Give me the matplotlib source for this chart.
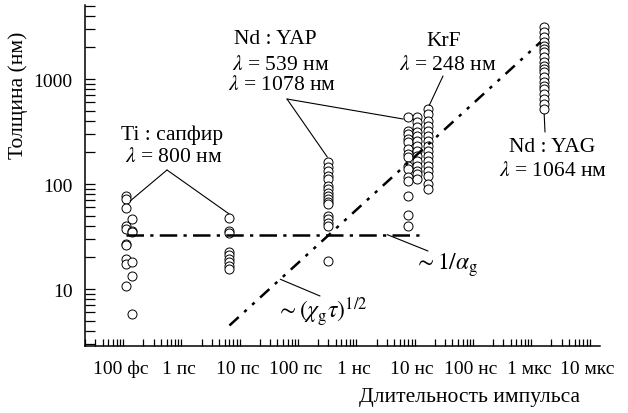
import numpy as np
import matplotlib.pyplot as plt
import matplotlib.transforms as mtransforms
from matplotlib.ticker import FixedLocator, LogLocator, NullFormatter

plt.rcParams['font.family'] = ['Liberation Serif', 'DejaVu Serif']
plt.rcParams['mathtext.fontset'] = 'stix'

# Pulse durations (s) and measured thicknesses (nm) for each laser group
ti_x1 = 1e-13
ti_y1 = [77, 72, 59, 40, 37, 27, 26, 19.5, 17.5, 10.8]
ti_x2 = 1.3e-13
ti_y2 = [46, 36, 35, 18, 13.4, 5.8]

ps10_x = 6e-12
ps10_y = [47, 36, 34.5, 22.5, 21, 19.5, 18, 16.7, 15.5]

yap_x = 3e-10
yap_y = [161, 144, 134, 120, 112, 96, 90, 83, 77, 72, 67, 64.5,
         50, 46, 43, 40, 18.6]

krf_x1 = 6.9e-9
krf_y1 = [431, 322, 299, 268, 249, 215, 193, 180, 149, 139, 116, 108,
          77, 51, 39.5]
krf_x2 = 1.0e-8
krf_y2 = [431, 387, 347, 311, 288, 258, 231, 207, 186, 166, 149, 134,
          124, 112]
krf_x3 = 1.5e-8
krf_y3 = [518, 464, 401, 359, 322, 288, 258, 232, 207, 186, 167, 149,
          134, 120, 100, 90]

yag_x = 1.5e-6
yag_y = [3100, 2780, 2500, 2240, 2075, 1930, 1795, 1610, 1445, 1340,
         1245, 1160, 1040, 930, 865, 805, 720, 645, 578, 518]

# Model lines
alpha_x = [1e-13, 1.2e-8]
alpha_y = [33, 33]
chi_x = [6e-12, 1.3e-6]
chi_y = [4.5, 2250]

xtick_vals = [1e-13, 1e-12, 1e-11, 1e-10, 1e-9, 1e-8, 1e-7, 1e-6, 1e-5]
xtick_labels = ['100 фс', '1 пс', '10 пс', '100 пс', '1 нс', '10 нс',
                '100 нс', '1 мкс', '10 мкс']
ytick_vals = [10, 100, 1000]
ytick_labels = ['10', '100', '1000']

W, H = 628, 414
fig = plt.figure(figsize=(W / 100, H / 100), dpi=100)
ax = fig.add_axes([85 / W, 1 - 347 / H, 515 / W, 341 / H])
ax.set_xscale('log')
ax.set_yscale('log')
ax.set_xlim(2e-14, 1.36e-5)
ax.set_ylim(2.87, 5070)

mk = dict(ls='none', marker='o', ms=6.5, mfc='white', mec='black', mew=0.7)
groups = [(ti_x1, ti_y1), (ti_x2, ti_y2), (ps10_x, ps10_y), (yap_x, yap_y),
          (krf_x1, krf_y1), (krf_x2, krf_y2), (krf_x3, krf_y3), (yag_x, yag_y)]
for gx, gy in groups:
    ax.plot([gx] * len(gy), gy, zorder=3, **mk)

ax.plot(alpha_x, alpha_y, color='black', lw=1.8,
        dashes=(7, 2.5, 1.3, 2.5), zorder=4)
ax.plot(chi_x, chi_y, color='black', lw=1.8,
        dashes=(5, 3, 1.3, 3, 1.3, 3), zorder=4)

for s in ['top', 'right']:
    ax.spines[s].set_visible(False)
for s in ['left', 'bottom']:
    ax.spines[s].set_linewidth(1.1)

ax.xaxis.set_major_locator(FixedLocator(xtick_vals))
ax.set_xticklabels(xtick_labels)
ax.xaxis.set_minor_locator(LogLocator(base=10, subs=np.arange(2, 10), numticks=30))
ax.xaxis.set_minor_formatter(NullFormatter())
ax.tick_params(axis='x', which='major', length=0, pad=10, labelsize=14)
ax.tick_params(axis='x', which='minor', direction='in', length=5, width=0.9)
shift = mtransforms.ScaledTranslation(-5 / 100, 0, fig.dpi_scale_trans)
for lab in ax.get_xticklabels():
    lab.set_transform(lab.get_transform() + shift)

ax.yaxis.set_major_locator(FixedLocator(ytick_vals))
ax.set_yticklabels(ytick_labels)
ax.yaxis.set_minor_locator(LogLocator(base=10, subs=np.arange(2, 10), numticks=30))
ax.yaxis.set_minor_formatter(NullFormatter())
ax.tick_params(axis='y', which='both', direction='in', length=7, width=0.9,
               pad=9, labelsize=14)


def ftext(px, py, s, ha='center', size=15.5):
    fig.text(px / W, 1 - py / H, s, ha=ha, va='center', fontsize=size)


def leader(xy, px, py):
    ax.annotate('', xy=xy, xycoords='data', xytext=(px, H - py),
                textcoords='figure pixels',
                arrowprops=dict(arrowstyle='-', lw=0.8, color='black',
                                shrinkA=0, shrinkB=0))


# Ti:sapphire
ftext(172, 135, 'Ti : сапфир')
ftext(174, 157, r'$\lambda$ = 800 нм')
leader((1.19e-13, 69), 167, 171)
leader((5.9e-12, 52), 167, 171)

# Nd:YAP
ftext(275, 40, 'Nd : YAP')
ftext(281, 65, r'$\lambda$ = 539 нм')
ftext(282, 85, r'$\lambda$ = 1078 нм')
leader((5.75e-9, 416), 287, 100)
leader((2.86e-10, 181), 287, 100)

# KrF
ftext(444, 42, 'KrF')
ftext(448, 65, r'$\lambda$ = 248 нм')
leader((1.6e-8, 560), 443, 77)

# Nd:YAG
ftext(552, 148, 'Nd : YAG')
ftext(553, 172, r'$\lambda$ = 1064 нм')
leader((1.5e-6, 464), 545, 133)

# model labels
ftext(414, 265, r'$\sim 1/\alpha_{\rm g}$', ha='left', size=17)
leader((3.05e-9, 33), 428, 252)
ftext(276, 312, r'$\sim (\chi_{\rm g}\tau)^{1/2}$', ha='left', size=17)
leader((4.47e-11, 12.4), 320, 297)

fig.text(18 / W, 1 - 95 / H, 'Толщина (нм)', rotation=90,
         ha='center', va='center', fontsize=15.5)
ftext(470, 398, 'Длительность импульса')

fig.savefig('out.png', dpi=100)
